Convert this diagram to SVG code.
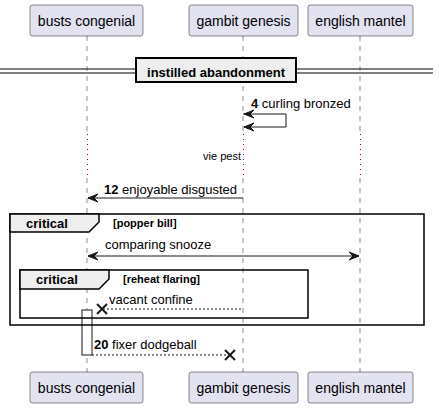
<svg xmlns="http://www.w3.org/2000/svg" width="439" height="408" viewBox="0 0 439 408">
<style>
text{font-family:"Liberation Sans",Arial,sans-serif;fill:#000}
.pbox{fill:#E2E2F0;stroke:#181818;stroke-width:0.5}
.pt{font-size:14px;text-anchor:middle}
.life{stroke:#181818;stroke-width:0.5;stroke-dasharray:5,5;fill:none}
.delay{stroke:#A80036;stroke-width:1;stroke-dasharray:1,4;fill:none}
.msg{stroke:#181818;stroke-width:1;fill:none}
.dash{stroke:#181818;stroke-width:1;stroke-dasharray:2,2;fill:none}
.head{fill:#181818;stroke:#181818;stroke-width:1}
.x{stroke:#181818;stroke-width:2}
.mt{font-size:13px}
.b{font-weight:bold}
.frame{fill:none;stroke:#000;stroke-width:1.5}
.tab{fill:#EEEEEE;stroke:#000;stroke-width:1.5}
.gl{font-size:11px;font-weight:bold}
</style>
<g id="lifelines">
<line class="life" x1="87" y1="36" x2="87" y2="132"/>
<line class="delay" x1="87.5" y1="134" x2="87.5" y2="178"/>
<line class="life" x1="87" y1="178" x2="87" y2="372"/>
<line class="life" x1="243" y1="36" x2="243" y2="132"/>
<line class="delay" x1="243.5" y1="134" x2="243.5" y2="178"/>
<line class="life" x1="243" y1="178" x2="243" y2="372"/>
<line class="life" x1="360" y1="36" x2="360" y2="132"/>
<line class="delay" x1="360.5" y1="134" x2="360.5" y2="178"/>
<line class="life" x1="360" y1="178" x2="360" y2="372"/>
</g>
<g id="p-busts-congenial">
<rect class="pbox" x="30" y="5" width="113" height="31" rx="2.5"/>
<text class="pt" x="86.5" y="26">busts congenial</text>
<rect class="pbox" x="30" y="372" width="113" height="31" rx="2.5"/>
<text class="pt" x="86.5" y="393">busts congenial</text>
</g>
<g id="p-gambit-genesis">
<rect class="pbox" x="189" y="5" width="109" height="31" rx="2.5"/>
<text class="pt" x="243.5" y="26">gambit genesis</text>
<rect class="pbox" x="189" y="372" width="109" height="31" rx="2.5"/>
<text class="pt" x="243.5" y="393">gambit genesis</text>
</g>
<g id="p-english-mantel">
<rect class="pbox" x="308" y="5" width="105" height="31" rx="2.5"/>
<text class="pt" x="360.5" y="26">english mantel</text>
<rect class="pbox" x="308" y="372" width="105" height="31" rx="2.5"/>
<text class="pt" x="360.5" y="393">english mantel</text>
</g>
<g id="divider">
<line x1="0" y1="69" x2="433" y2="69" stroke="#000" stroke-width="1"/>
<line x1="0" y1="73" x2="433" y2="73" stroke="#000" stroke-width="1"/>
<rect x="136" y="58" width="160" height="24" fill="#EEEEEE" stroke="#000" stroke-width="2"/>
<text class="mt b" x="216" y="76.5" text-anchor="middle">instilled abandonment</text>
</g>
<g id="delay">
<text x="241" y="160" font-size="11" text-anchor="end">vie pest</text>
</g>
<g id="activation">
<rect x="82" y="310" width="10" height="45" fill="#FFFFFF" stroke="#181818" stroke-width="1"/>
</g>
<g id="frame-popper-bill">
<rect class="frame" x="10" y="214" width="414" height="111"/>
<path class="tab" d="M10,214 L99,214 L99,222 L89,232 L10,232 Z"/>
<text class="mt b" x="26" y="228">critical</text>
<text class="gl" x="113" y="227">[popper bill]</text>
</g>
<g id="frame-reheat-flaring">
<rect class="frame" x="20" y="270" width="288" height="48"/>
<path class="tab" d="M20,270 L109,270 L109,279 L99,289 L20,289 Z"/>
<text class="mt b" x="36" y="284">critical</text>
<text class="gl" x="123" y="283">[reheat flaring]</text>
</g>
<g id="connectors">
<polyline class="msg" points="243,114 286,114 286,127 244,127"/>
<polygon class="head" points="254,110 244,114 254,118 250,114"/>
<polygon class="head" points="254,123 244,127 254,131 250,127"/>
<text class="mt" x="251" y="108"><tspan class="b">4</tspan> curling bronzed</text>
<line class="msg" x1="88" y1="198" x2="243" y2="198"/>
<polygon class="head" points="98,194 88,198 98,202 94,198"/>
<text class="mt" x="104" y="194"><tspan class="b">12</tspan> enjoyable disgusted</text>
<line class="msg" x1="88" y1="256" x2="359" y2="256"/>
<polygon class="head" points="98,252 88,256 98,260 94,256"/>
<polygon class="head" points="349,252 359,256 349,260 353,256"/>
<text class="mt" x="105" y="249">comparing snooze</text>
<line class="dash" x1="103" y1="309" x2="243" y2="309"/>
<line class="x" x1="97" y1="304" x2="107" y2="314"/>
<line class="x" x1="97" y1="314" x2="107" y2="304"/>
<text class="mt" x="109" y="304">vacant confine</text>
<line class="dash" x1="92" y1="355" x2="230" y2="355"/>
<line class="x" x1="225" y1="350" x2="235" y2="360"/>
<line class="x" x1="225" y1="360" x2="235" y2="350"/>
<text class="mt" x="94" y="349"><tspan class="b">20</tspan> fixer dodgeball</text>
</g>
</svg>
